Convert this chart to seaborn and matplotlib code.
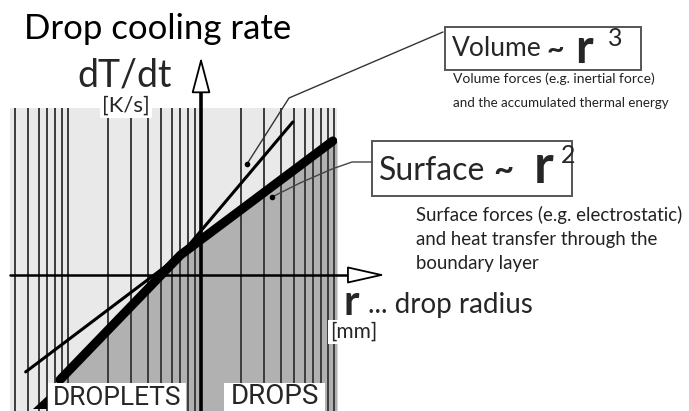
import numpy as np
import pandas as pd
import matplotlib
matplotlib.use("Agg")
import matplotlib.pyplot as plt
import seaborn as sns
from matplotlib.patches import Rectangle, Polygon

# ---------------- data (schematic, log-log) ----------------
grid_r = [0.04, 0.05, 0.06, 0.07, 0.08, 0.09,
          0.1, 0.2, 0.3, 0.4, 0.5, 0.6, 0.7, 0.8, 0.9,
          1, 2, 3, 4, 5, 6, 7, 8, 9, 10]
volume_r = [0.048, 0.70, 4.9]
volume_rate = [0.0115, 2.5, 1150]
surface_r = [0.087, 0.70, 9.8]
surface_rate = [0.008, 2.5, 480]
x_limits = [0.0366, 10.53]
y_limits = [0.0019, 2190]

sns.set_theme(style="white")
plt.rcParams["font.family"] = ["Lato", "DejaVu Sans"]

W, H = 689, 411
fig = plt.figure(figsize=(W / 100, H / 100), dpi=100)
fig.patch.set_facecolor("white")

# main log-log axes (grid area)
gx0, gx1, gy0 = 10, 337, 108
ax = fig.add_axes([gx0 / W, 0, (gx1 - gx0) / W, (H - gy0) / H])
ax.set_xscale("log")
ax.set_yscale("log")
ax.set_xlim(*x_limits)
ax.set_ylim(*y_limits)
ax.set_facecolor("#e9e9e9")
for s in ax.spines.values():
    s.set_visible(False)
ax.set_xticks([]); ax.set_yticks([])
ax.minorticks_off()

# dark area below the surface line
fill_x = surface_r + [x_limits[1]]
fill_y = surface_rate + [surface_rate[-1]]
ax.fill_between(fill_x, fill_y, y_limits[0], color="#b1b1b1", lw=0, zorder=1)

# vertical log grid
ax.vlines(grid_r, y_limits[0], y_limits[1], colors="#3c3c3c", lw=1.4, zorder=2)

df_v = pd.DataFrame({"r": volume_r, "rate": volume_rate})
df_s = pd.DataFrame({"r": surface_r, "rate": surface_rate})
sns.lineplot(data=df_v, x="r", y="rate", ax=ax, color="black", lw=2.2,
             sort=False, zorder=5)
sns.lineplot(data=df_s, x="r", y="rate", ax=ax, color="black", lw=6.5,
             sort=False, zorder=5)
ax.set_xlabel(""); ax.set_ylabel("")

# coordinate axes: shafts + hollow arrow heads
ax.axhline(1, xmin=0, xmax=1.08, color="black", lw=1.8, clip_on=False, zorder=6)
ax.axvline(1, ymin=0, ymax=1.09, color="black", lw=2.6, clip_on=False, zorder=6)
hprops = dict(arrowstyle="-|>,head_length=2.0,head_width=0.45",
              fc="white", ec="black", lw=1.3, shrinkA=0, shrinkB=0)
ax.annotate("", xy=(1.148, 1), xycoords=("axes fraction", "data"),
            xytext=(1.07, 1), textcoords=("axes fraction", "data"),
            arrowprops=hprops, annotation_clip=False, zorder=7)
ax.annotate("", xy=(1, 1.168), xycoords=("data", "axes fraction"),
            xytext=(1, 1.08), textcoords=("data", "axes fraction"),
            arrowprops=dict(hprops, arrowstyle="-|>,head_length=1.9,head_width=0.5"),
            annotation_clip=False, zorder=7)

# ---------------- overlay for labels (pixel coords) ----------------
ov = fig.add_axes([0, 0, 1, 1])
ov.set_xlim(0, W); ov.set_ylim(H, 0)
ov.axis("off")
ov.patch.set_alpha(0)

ov.text(24, 29, "Drop cooling rate", fontsize=25, ha="left", va="center",
        color="black")
ov.text(125, 76, "dT/dt", fontsize=27, ha="center", va="center")
ov.text(126, 106, "[K/s]", fontsize=16, ha="center", va="center",
        bbox=dict(boxstyle="square,pad=0.1", fc="white", ec="none"))

# Volume box
ov.add_patch(Rectangle((445, 27), 196, 43, fill=False, ec="#555555", lw=1.4))
ov.text(452, 49, "Volume", fontsize=19, ha="left", va="center")
ov.text(546, 49, "~", fontsize=22, fontweight="bold", ha="left", va="center")
ov.text(575, 49, "r", fontsize=34, fontweight="bold", ha="left", va="center")
ov.text(608, 38, "3", fontsize=18, ha="left", va="center")
ov.text(453, 79, "Volume forces (e.g. inertial force)", fontsize=10,
        ha="left", va="center", color="#222222")
ov.text(453, 103, "and the accumulated thermal energy", fontsize=9.6,
        ha="left", va="center", color="#222222")

# Surface box
ov.add_patch(Rectangle((372, 141), 200, 55, fill=False, ec="#555555", lw=1.4))
ov.text(379, 171, "Surface", fontsize=23, ha="left", va="center")
ov.text(493, 171, "~", fontsize=25, fontweight="bold", ha="left", va="center")
ov.text(534, 167, "r", fontsize=38, fontweight="bold", ha="left", va="center")
ov.text(561, 155, "2", fontsize=18, ha="left", va="center")
for i, t in enumerate(["Surface forces (e.g. electrostatic)",
                       "and heat transfer through the",
                       "boundary layer"]):
    ov.text(416, 215 + 24 * i, t, fontsize=13.4, ha="left", va="center",
            color="#222222")

# r ... drop radius
ov.text(344, 303, "r", fontsize=30, fontweight="bold", ha="left", va="center")
ov.text(368, 305, "... drop radius", fontsize=20, ha="left", va="center")
ov.text(354, 332, "[mm]", fontsize=15, ha="center", va="center",
        bbox=dict(boxstyle="square,pad=0.1", fc="white", ec="none"))

# leader lines
ov.plot([443, 289, 247], [32, 98, 164], color="#333333", lw=1.0)
ov.plot([247], [164], marker="o", ms=3, color="black")
lx = [372, 352, 332, 300, 272]
ly = [162, 162, 169, 183, 197]
ov.plot(lx, ly, color="#444444", lw=1.0)
ov.plot([272], [197], marker="o", ms=3, color="black")

# bottom labels
cond = ["Roboto", "DejaVu Sans"]
ov.add_patch(Rectangle((48, 383), 138, 30, fc="white", ec="none"))
ov.add_patch(Rectangle((224, 383), 101, 30, fc="white", ec="none"))
ov.text(117, 410, "DROPLETS", fontsize=19, family=cond, ha="center",
        va="bottom")
ov.text(275, 410, "DROPS", fontsize=20, family=cond, ha="center",
        va="bottom")
ov.add_patch(Polygon([(33, 409), (47, 396), (47, 409)], closed=True,
                     fc="black", ec="none"))

fig.savefig("out.png", dpi=100, facecolor="white")
